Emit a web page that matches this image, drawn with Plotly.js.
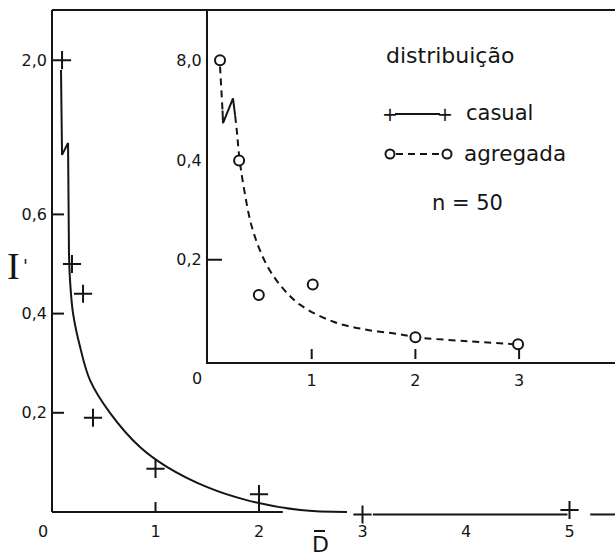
<!DOCTYPE html>
<html>
<head>
<meta charset="utf-8">
<script src="https://cdn.plot.ly/plotly-3.0.1.min.js"></script>
<style>html,body{margin:0;padding:0;background:#fff;}#chart{width:615px;height:557px;}</style>
</head>
<body>
<div id="chart"></div>
<script>
// ---------- data ----------
// main plot: "casual" distribution, crosses
const casualX = [0.097, 0.193, 0.30, 0.396, 1.0, 2.0, 3.0, 5.0];
const casualY = [2.0, 0.50, 0.44, 0.19, 0.087, 0.036, -0.005, 0.004];
// fitted curve (solid): part through the axis break, then the smooth part (null = gaps)
const casualBreakX = [0.087, 0.097, 0.155, 0.164];
const casualBreakY = [1.948, 1.50, 0.744, 0.522];
const casualFitX = [0.164, 0.174, 0.203, 0.271, 0.367, 0.56, 0.85, 1.11, 1.50, 1.88, 2.40, 2.85, null, 3.10, 4.98, null, 5.20, 5.44];
const casualFitY = [0.522, 0.468, 0.401, 0.333, 0.266, 0.200, 0.131, 0.091, 0.050, 0.024, 0.004, 0.000, null, -0.005, -0.005, null, -0.005, -0.005];

// inset: "agregada" distribution, open circles
const agregX = [0.116, 0.30, 0.49, 1.01, 2.0, 2.99];
const agregY = [8.0, 0.40, 0.129, 0.150, 0.044, 0.030];
// fitted curve (dashed): stem below the top point, the break zig-zag, then the smooth part
const agregTopX = [0.116, 0.140];
const agregTopY = [7.94, 7.52];
const agregBreakX = [0.140, 0.145, 0.241, 0.262];
const agregBreakY = [7.52, 7.40, 0.525, 0.49];
const agregFitX = [0.262, 0.28, 0.30, 0.34, 0.43, 0.57, 0.72, 0.89, 1.21, 1.53, 1.85, 2.0, 2.50, 2.94];
const agregFitY = [0.49, 0.455, 0.41, 0.352, 0.261, 0.188, 0.143, 0.109, 0.075, 0.059, 0.050, 0.044, 0.036, 0.030];

// tick labels and tick marks
const mainXTicks = [1, 2, 3, 4, 5];
const mainXText = ["1", "2", "3", "4", "5"];
const mainXMarks = [1, 2];
const mainYTicks = [0.2, 0.4, 0.6, 2.0];
const mainYText = ["0,2", "0,4", "0,6", "2,0"];
const mainYMarks = [0.2, 0.4, 0.6];
const insetXTicks = [1, 2, 3];
const insetXText = ["1", "2", "3"];
const insetXMarks = [1, 2, 3];
const insetYTicks = [0.2, 0.4, 8.0];
const insetYText = ["0,2", "0,4", "8,0"];
const insetYMarks = [0.2];

// ---------- broken-axis mapping ----------
// below LO the scale is linear; values above the break are compressed
function makeBreak(lo, realA, dispA, realB, dispB) {
  const k = (dispB - dispA) / (realB - realA);
  return v => (v === null ? null : (v <= lo ? v : dispA + (v - realA) * k));
}
const brkMain = makeBreak(0.8, 1.5, 0.720, 2.0, 0.911);
const brkInset = makeBreak(0.6, 7.4, 0.475, 8.0, 0.602);

// ---------- geometry helpers (pixel -> paper) ----------
const W = 615, H = 557, ML = 52, MR = 0, MT = 10, MB = 37;
const PW = W - ML - MR, PH = H - MT - MB;
const PX = p => (p - ML) / PW;
const PY = p => (H - MB - p) / PH;

const ink = '#151515';
const font = "DejaVu Sans, Verdana, sans-serif";
const dash = '7px,5px';

function line(x, y, xa, ya, brk, opts) {
  return Object.assign({ x: x, y: y.map(brk), xaxis: xa, yaxis: ya, mode: 'lines',
    hoverinfo: 'skip', showlegend: false, connectgaps: false }, opts);
}

const traces = [
  line(casualBreakX, casualBreakY, 'x', 'y', brkMain, { line: { color: ink, width: 2 } }),
  line(casualFitX, casualFitY, 'x', 'y', brkMain, { line: { color: ink, width: 2, shape: 'spline', smoothing: 1 } }),
  { x: casualX, y: casualY.map(brkMain), xaxis: 'x', yaxis: 'y', mode: 'markers',
    marker: { symbol: 'cross-thin-open', size: 13, color: ink, line: { color: ink, width: 2 } }, showlegend: false, cliponaxis: false },
  line(agregTopX, agregTopY, 'x2', 'y2', brkInset, { line: { color: ink, width: 2, dash: dash } }),
  line(agregBreakX, agregBreakY, 'x2', 'y2', brkInset, { line: { color: ink, width: 2 } }),
  line(agregFitX, agregFitY, 'x2', 'y2', brkInset, { line: { color: ink, width: 2, dash: dash, shape: 'spline', smoothing: 1 } }),
  { x: agregX, y: agregY.map(brkInset), xaxis: 'x2', yaxis: 'y2', mode: 'markers',
    marker: { symbol: 'circle', size: 10, color: '#ffffff', line: { color: ink, width: 2 } }, showlegend: false, cliponaxis: false }
];

const tickFont = { family: font, size: 16, color: ink };

// inward tick marks, anchored at data values, length in pixels
const tickLine = { color: ink, width: 2 };
const xTickShapes = (vals, xref, yref, len) => vals.map(v => ({ type: 'line', xref: xref, yref: yref,
  x0: v, x1: v, ysizemode: 'pixel', yanchor: 0, y0: 0, y1: len, line: tickLine }));
const yTickShapes = (vals, xref, yref, len, brk) => vals.map(v => ({ type: 'line', xref: xref, yref: yref,
  y0: brk(v), y1: brk(v), xsizemode: 'pixel', xanchor: 0, x0: 0, x1: len, line: tickLine }));

const layout = {
  width: W, height: H,
  margin: { l: ML, r: MR, t: MT, b: MB, pad: 0 },
  paper_bgcolor: '#ffffff', plot_bgcolor: '#ffffff',
  showlegend: false,
  xaxis: {
    range: [0, PW / 103.5], anchor: 'free', position: PY(512),
    showgrid: false, zeroline: false, showline: false, ticks: '',
    tickmode: 'array', tickvals: mainXTicks, ticktext: mainXText, tickfont: tickFont,
    ticklabelstandoff: 8
  },
  yaxis: {
    range: [-8 / 496, 502 / 496], anchor: 'x',
    showgrid: false, zeroline: false, showline: false, ticks: '',
    tickmode: 'array', tickvals: mainYTicks.map(brkMain), ticktext: mainYText, tickfont: tickFont,
    ticklabelstandoff: 4
  },
  xaxis2: {
    domain: [PX(208), 1], range: [0, (W - 208) / 103.7], anchor: 'y2',
    showgrid: false, zeroline: false, showline: true, linecolor: ink, linewidth: 2, ticks: '',
    tickmode: 'array', tickvals: insetXTicks, ticktext: insetXText, tickfont: tickFont,
    ticklabelstandoff: 3
  },
  yaxis2: {
    domain: [PY(362), 1], range: [-3 / 505, 355 / 505], anchor: 'x2',
    showgrid: false, zeroline: false, showline: true, linecolor: ink, linewidth: 2, ticks: '',
    tickmode: 'array', tickvals: insetYTicks.map(brkInset), ticktext: insetYText, tickfont: tickFont,
    ticklabelstandoff: 1
  },
  shapes: [
    // main y axis line
    { type: 'line', xref: 'paper', yref: 'paper', x0: 0, x1: 0, y0: PY(512), y1: 1, line: { color: ink, width: 2 } },
    // top frame line
    { type: 'line', xref: 'paper', yref: 'paper', x0: 0, x1: 1, y0: 1, y1: 1, line: { color: ink, width: 2 } },
    // main x axis line (drawn only up to ~2.2)
    { type: 'line', xref: 'x', yref: 'y', x0: 0, x1: 2.23, y0: 0, y1: 0, line: { color: ink, width: 2 } },
    // legend samples
    { type: 'line', xref: 'paper', yref: 'paper', x0: PX(395), x1: PX(440), y0: PY(114), y1: PY(114), line: { color: ink, width: 2 } },
    { type: 'line', xref: 'paper', yref: 'paper', x0: PX(396), x1: PX(442), y0: PY(154), y1: PY(154), line: { color: ink, width: 2, dash: dash } },
    { type: 'circle', xref: 'paper', yref: 'paper', x0: PX(385.5), x1: PX(394.5), y0: PY(149.5), y1: PY(158.5), fillcolor: '#ffffff', line: { color: ink, width: 2 } },
    { type: 'circle', xref: 'paper', yref: 'paper', x0: PX(442.5), x1: PX(451.5), y0: PY(149.5), y1: PY(158.5), fillcolor: '#ffffff', line: { color: ink, width: 2 } },
    // overbar of the x title
    { type: 'line', xref: 'paper', yref: 'paper', x0: PX(314), x1: PX(325), y0: PY(531), y1: PY(531), line: { color: ink, width: 2 } }
  ].concat(
    xTickShapes(mainXMarks, 'x', 'y', 10),
    yTickShapes(mainYMarks, 'x', 'y', 12, brkMain),
    xTickShapes(insetXMarks, 'x2', 'y2', 10),
    yTickShapes(insetYMarks, 'x2', 'y2', 14, brkInset)
  ),
  annotations: [
    { text: 'distribuição', xref: 'paper', yref: 'paper', x: PX(384), y: PY(55), xanchor: 'left', yanchor: 'middle', showarrow: false, font: { family: font, size: 22, color: ink } },
    { text: '+', xref: 'paper', yref: 'paper', x: PX(390), y: PY(114), xanchor: 'center', yanchor: 'middle', showarrow: false, font: { family: font, size: 19, color: ink } },
    { text: '+', xref: 'paper', yref: 'paper', x: PX(445), y: PY(114), xanchor: 'center', yanchor: 'middle', showarrow: false, font: { family: font, size: 19, color: ink } },
    { text: 'casual', xref: 'paper', yref: 'paper', x: PX(464), y: PY(113), xanchor: 'left', yanchor: 'middle', showarrow: false, font: { family: font, size: 21, color: ink } },
    { text: 'agregada', xref: 'paper', yref: 'paper', x: PX(462), y: PY(153), xanchor: 'left', yanchor: 'middle', showarrow: false, font: { family: font, size: 21.5, color: ink } },
    { text: 'n = 50', xref: 'paper', yref: 'paper', x: PX(430), y: PY(203), xanchor: 'left', yanchor: 'middle', showarrow: false, font: { family: font, size: 21, color: ink } },
    // corner zero labels
    { text: '0', xref: 'paper', yref: 'paper', x: PX(43), y: PY(531), xanchor: 'center', yanchor: 'middle', showarrow: false, font: tickFont },
    { text: '0', xref: 'paper', yref: 'paper', x: PX(197), y: PY(378), xanchor: 'center', yanchor: 'middle', showarrow: false, font: tickFont },
    // axis titles
    { text: 'I', xref: 'paper', yref: 'paper', x: PX(13), y: PY(266), xanchor: 'center', yanchor: 'middle', showarrow: false, font: { family: 'Liberation Serif, serif', size: 38, color: ink } },
    { text: "'", xref: 'paper', yref: 'paper', x: PX(25), y: PY(265), xanchor: 'center', yanchor: 'middle', showarrow: false, font: { family: font, size: 18, color: ink } },
    { text: 'D', xref: 'paper', yref: 'paper', x: PX(320), y: PY(544), xanchor: 'center', yanchor: 'middle', showarrow: false, font: { family: font, size: 22, color: ink } }
  ]
};

Plotly.newPlot('chart', traces, layout, { displayModeBar: false, staticPlot: true });
</script>
</body>
</html>
